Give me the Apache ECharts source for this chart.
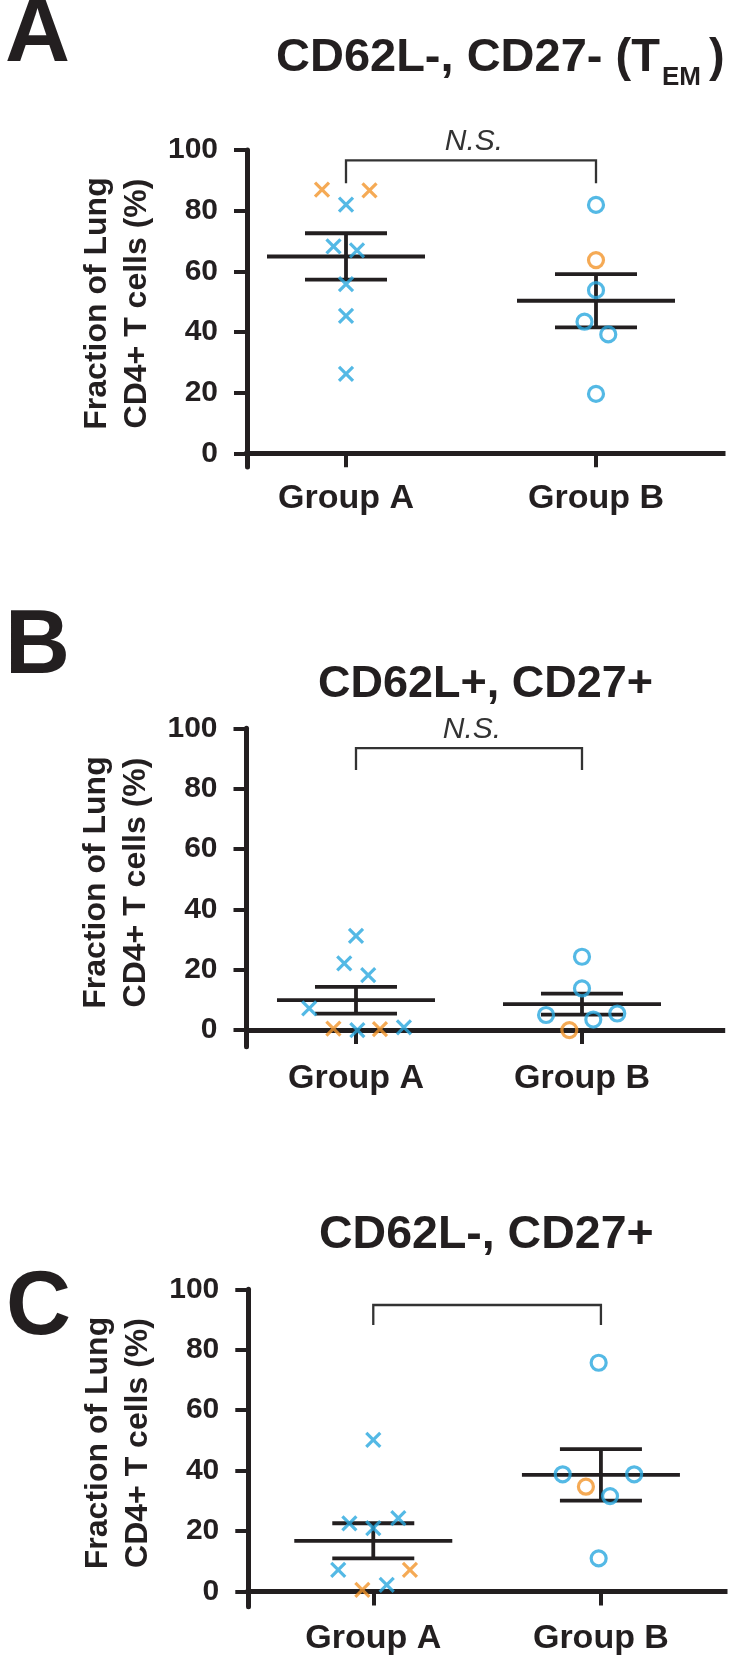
<!DOCTYPE html>
<html><head><meta charset="utf-8">
<script src="https://cdn.jsdelivr.net/npm/echarts@6/dist/echarts.min.js"></script>
<style>html,body{margin:0;padding:0;background:#fff}#c{width:734px;height:1663px}</style>
</head><body><div id="c"></div>
<script>
// ---------- data ----------
const groupNames = ['Group A', 'Group B'];
const yTickValues = [0, 20, 40, 60, 80, 100];
const panelLetters = ['A', 'B', 'C'];
const panelTitles = ['CD62L-, CD27- (T', 'CD62L+, CD27+', 'CD62L-, CD27+'];
const sigLabels = ['N.S.', 'N.S.', ''];

// Panel A
const aGroupAValues = [86.9, 86.7, 82.0, 68.2, 66.9, 55.8, 45.3, 26.2];
const aGroupAJitter = [-0.096, 0.094, 0, -0.05, 0.044, 0, 0, 0];
const aGroupAOrange = [1, 1, 0, 0, 0, 0, 0, 0];
const aGroupBValues = [81.9, 63.7, 53.8, 43.4, 39.2, 19.6];
const aGroupBJitter = [0, 0, 0, -0.046, 0.049, 0];
const aGroupBOrange = [0, 1, 0, 0, 0, 0];
const aMean = [64.9, 50.3];
const aSem = [7.65, 8.8];
const aBracket = [96.6, 89.0];

// Panel B
const bGroupAValues = [31.2, 22.1, 18.2, 7.2, 0.5, 0.0, 0.3, 0.9];
const bGroupAJitter = [0, -0.052, 0.054, -0.207, -0.10, 0.006, 0.106, 0.212];
const bGroupAOrange = [0, 0, 0, 0, 1, 0, 1, 0];
const bGroupBValues = [24.3, 13.8, 5.0, 3.5, 5.5, 0.0];
const bGroupBJitter = [0, 0, -0.159, 0.05, 0.156, -0.056];
const bGroupBOrange = [0, 0, 0, 0, 0, 1];
const bMean = [9.9, 8.6];
const bSem = [4.45, 3.5];
const bBracket = [93.4, 86.2];

// Panel C
const cGroupAValues = [50.2, 22.6, 21.0, 24.3, 7.2, 7.2, 0.6, 2.2];
const cGroupAJitter = [0, -0.105, 0, 0.11, -0.154, 0.161, -0.048, 0.059];
const cGroupAOrange = [0, 0, 0, 0, 0, 1, 1, 0];
const cGroupBValues = [75.7, 38.8, 38.8, 34.7, 31.6, 11.0];
const cGroupBJitter = [-0.01, -0.168, 0.146, -0.066, 0.04, -0.01];
const cGroupBOrange = [0, 0, 0, 1, 0, 0];
const cMean = [16.8, 38.6];
const cSem = [5.8, 8.5];
const cBracket = [94.8, 88.2];

// ---------- style / layout ----------
const FONT = "'Liberation Sans', Arial, Helvetica, sans-serif";
const INK = '#231f20';
const BLUE = '#29a8df';
const ORANGE = '#f2952a';
const CROSS = 'path://M0,0L10,10M10,0L0,10';

const layouts = [
  { grid: { left: 247, top: 150, width: 476, height: 317 }, yMin: -4.5, xMin: 0.604, xMax: 2.508 },
  { grid: { left: 246.5, top: 728.3, width: 476.2, height: 318.4 }, yMin: -5.5, xMin: 0.5155, xMax: 2.6226 },
  { grid: { left: 248.3, top: 1289.3, width: 476.7, height: 317.4 }, yMin: -5.0, xMin: 0.451, xMax: 2.545 }
];

const panels = [
  { A: [aGroupAValues, aGroupAJitter, aGroupAOrange], B: [aGroupBValues, aGroupBJitter, aGroupBOrange], mean: aMean, sem: aSem, bracket: aBracket },
  { A: [bGroupAValues, bGroupAJitter, bGroupAOrange], B: [bGroupBValues, bGroupBJitter, bGroupBOrange], mean: bMean, sem: bSem, bracket: bBracket },
  { A: [cGroupAValues, cGroupAJitter, cGroupAOrange], B: [cGroupBValues, cGroupBJitter, cGroupBOrange], mean: cMean, sem: cSem, bracket: cBracket }
];

function pointData(arr, gx, orange) {
  const [vals, jit, flags] = arr;
  const out = [];
  vals.forEach((v, i) => { if (!!flags[i] === orange) out.push([gx + jit[i], v]); });
  return out;
}

const grids = [], xAxes = [], yAxes = [], series = [];
layouts.forEach((L, p) => {
  grids.push(Object.assign({ containLabel: false }, L.grid));
  xAxes.push({
    type: 'value', gridIndex: p, min: L.xMin, max: L.xMax,
    splitLine: { show: false },
    axisLine: { show: true, lineStyle: { color: INK, width: 5, cap: 'square' } },
    axisTick: { show: true, customValues: [1, 2], length: 14, lineStyle: { color: INK, width: 4 } },
    axisLabel: {
      customValues: [1, 2], margin: 15, color: INK, fontFamily: FONT, fontWeight: 'bold', fontSize: 34,
      formatter: v => groupNames[Math.round(v) - 1]
    }
  });
  yAxes.push({
    type: 'value', gridIndex: p, min: L.yMin, max: 100,
    splitLine: { show: false },
    axisLine: { show: true, lineStyle: { color: INK, width: 5 } },
    axisTick: { show: true, customValues: yTickValues, length: 13, lineStyle: { color: INK, width: 4 } },
    axisLabel: { customValues: yTickValues, margin: 29, color: INK, fontFamily: FONT, fontWeight: 'bold', fontSize: 30 },
    name: 'Fraction of Lung\nCD4+ T cells (%)', nameLocation: 'middle', nameRotate: 90, nameGap: 83,
    nameTextStyle: { color: INK, fontFamily: FONT, fontWeight: 'bold', fontSize: 32, lineHeight: 40, padding: [0, 0, 0, 10] }
  });

  const P = panels[p];
  [['A', 1], ['B', 2]].forEach(([g, gx]) => {
    [false, true].forEach(orange => {
      series.push({
        type: 'scatter', xAxisIndex: p, yAxisIndex: p, z: 5, silent: true,
        symbol: g === 'A' ? CROSS : 'circle',
        symbolSize: g === 'A' ? 14 : 15,
        itemStyle: { color: g === 'A' ? (orange ? ORANGE : BLUE) : 'rgba(0,0,0,0)', borderColor: orange ? ORANGE : BLUE, borderWidth: 3.2 },
        data: pointData(P[g], gx, orange)
      });
    });
  });

  // mean +/- SEM
  series.push({
    type: 'custom', xAxisIndex: p, yAxisIndex: p, z: 3, silent: true,
    data: [[1, P.mean[0], P.sem[0]], [2, P.mean[1], P.sem[1]]],
    renderItem: (params, api) => {
      const gx = api.value(0), m = api.value(1), s = api.value(2);
      const c = api.coord([gx, m]), up = api.coord([gx, m + s]), lo = api.coord([gx, m - s]);
      const st = { stroke: INK, lineWidth: 3.8 };
      return { type: 'group', children: [
        { type: 'line', shape: { x1: c[0] - 79, y1: c[1], x2: c[0] + 79, y2: c[1] }, style: st },
        { type: 'line', shape: { x1: c[0], y1: up[1], x2: c[0], y2: lo[1] }, style: st },
        { type: 'line', shape: { x1: c[0] - 41, y1: up[1], x2: c[0] + 41, y2: up[1] }, style: st },
        { type: 'line', shape: { x1: c[0] - 41, y1: lo[1], x2: c[0] + 41, y2: lo[1] }, style: st }
      ] };
    }
  });

  // significance bracket
  series.push({
    type: 'custom', xAxisIndex: p, yAxisIndex: p, z: 2, silent: true,
    data: [[1, 2, P.bracket[0], P.bracket[1]]],
    renderItem: (params, api) => {
      const a = api.coord([api.value(0), api.value(3)]);
      const at = api.coord([api.value(0), api.value(2)]);
      const bt = api.coord([api.value(1), api.value(2)]);
      const b = api.coord([api.value(1), api.value(3)]);
      const children = [{ type: 'polyline', shape: { points: [a, at, bt, b] }, style: { stroke: '#333', lineWidth: 2.3, fill: null } }];
      if (sigLabels[p]) children.push({
        type: 'text', x: (at[0] + bt[0]) / 2 + 3, y: at[1] - 3.6,
        style: { text: sigLabels[p], font: 'italic 30px ' + FONT, fill: '#333', align: 'center', verticalAlign: 'bottom' }
      });
      return { type: 'group', children };
    }
  });
});

// ---------- panel letters and titles ----------
const LETTER_SIZE = 90;
const letterPos = [[5, 67], [5, 679], [6, 1340]];
const titleSizes = [47, 45, 46.5];
const titlePos = [[276, 74], [318, 700], [319, 1251]];
const graphics = [];
panelLetters.forEach((t, i) => graphics.push({
  type: 'text', x: letterPos[i][0], y: letterPos[i][1] - 0.3465 * LETTER_SIZE,
  style: { text: t, font: 'bold ' + LETTER_SIZE + 'px ' + FONT, fill: INK, textAlign: 'left', textVerticalAlign: 'middle' }
}));
panelTitles.forEach((t, i) => graphics.push({
  type: 'text', x: titlePos[i][0], y: titlePos[i][1] - 0.3465 * titleSizes[i],
  style: { text: t, font: 'bold ' + titleSizes[i] + 'px ' + FONT, fill: INK, textAlign: 'left', textVerticalAlign: 'middle' }
}));
graphics.push({ type: 'text', x: 662, y: 87 - 0.3465 * 26,
  style: { text: 'EM', font: 'bold 26px ' + FONT, fill: INK, textAlign: 'left', textVerticalAlign: 'middle' } });
graphics.push({ type: 'text', x: 709, y: 74 - 0.3465 * 47,
  style: { text: ')', font: 'bold 47px ' + FONT, fill: INK, textAlign: 'left', textVerticalAlign: 'middle' } });

const chart = echarts.init(document.getElementById('c'), null, { renderer: 'canvas', width: 734, height: 1663 });
chart.setOption({
  backgroundColor: '#ffffff',
  animation: false,
  grid: grids, xAxis: xAxes, yAxis: yAxes, series: series,
  graphic: graphics
});
</script></body></html>
